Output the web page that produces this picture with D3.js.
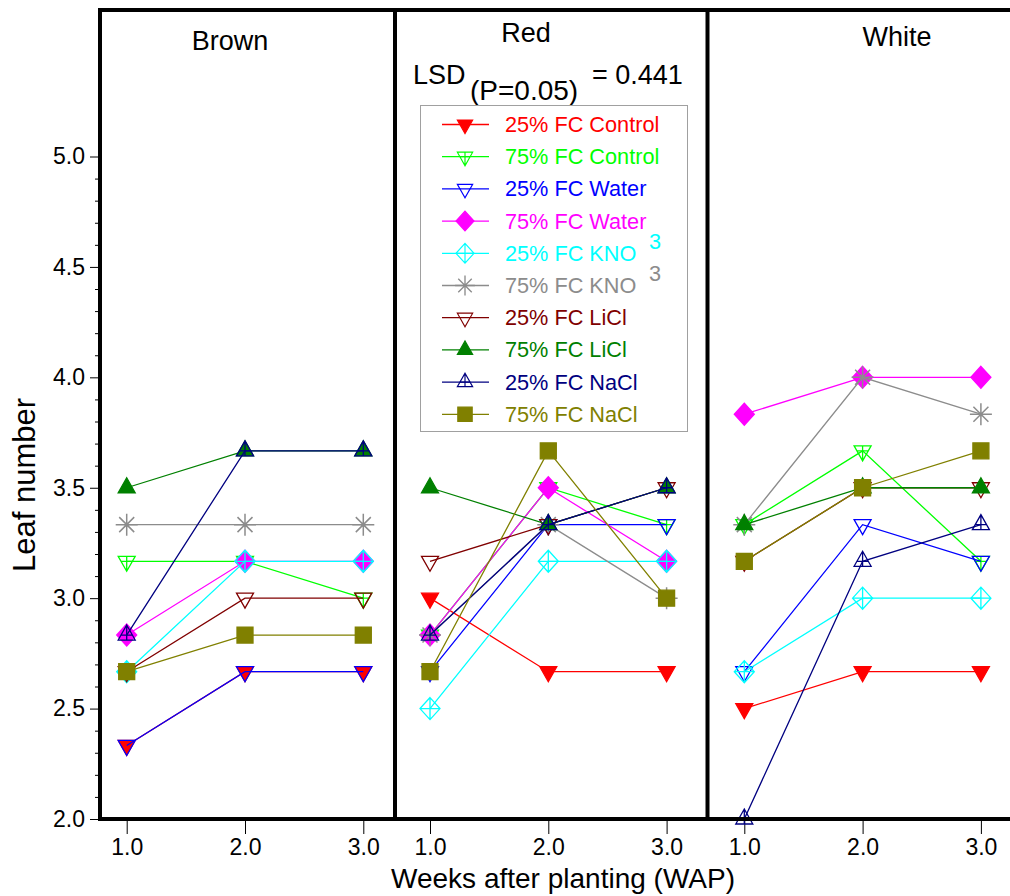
<!DOCTYPE html>
<html>
<head>
<meta charset="utf-8">
<script src="https://cdn.jsdelivr.net/npm/d3@7"></script>
<style>
  body { margin: 0; background: #fff; }
  svg { display: block; font-family: "Liberation Sans", Arial, sans-serif; }
</style>
</head>
<body>
<svg id="chart" width="1010" height="896"></svg>
<script>
// data ---------------------------------------------------------------------
const weeks = [1, 2, 3];
const cultivars = ['Brown', 'Red', 'White'];
const treatments = [
  '25% FC Control', '75% FC Control', '25% FC Water', '75% FC Water',
  '25% FC KNO3', '75% FC KNO3', '25% FC LiCl', '75% FC LiCl',
  '25% FC NaCl', '75% FC NaCl',
];
const brownValues = [
  [2.333, 2.667, 2.667],
  [3.167, 3.167, 3.0],
  [2.333, 2.667, 2.667],
  [2.833, 3.167, 3.167],
  [2.667, 3.167, 3.167],
  [3.333, 3.333, 3.333],
  [2.667, 3.0, 3.0],
  [3.5, 3.667, 3.667],
  [2.833, 3.667, 3.667],
  [2.667, 2.833, 2.833],
];
const redValues = [
  [3.0, 2.667, 2.667],
  [2.833, 3.5, 3.333],
  [2.667, 3.333, 3.333],
  [2.833, 3.5, 3.167],
  [2.5, 3.167, 3.167],
  [2.833, 3.333, 3.0],
  [3.167, 3.333, 3.5],
  [3.5, 3.333, 3.5],
  [2.833, 3.333, 3.5],
  [2.667, 3.667, 3.0],
];
const whiteValues = [
  [2.5, 2.667, 2.667],
  [3.333, 3.667, 3.167],
  [2.667, 3.333, 3.167],
  [3.833, 4.0, 4.0],
  [2.667, 3.0, 3.0],
  [3.333, 4.0, 3.833],
  [3.167, 3.5, 3.5],
  [3.333, 3.5, 3.5],
  [2.0, 3.167, 3.333],
  [3.167, 3.5, 3.667],
];
const yTicks = [2.0, 2.5, 3.0, 3.5, 4.0, 4.5, 5.0];
const lsdText = ['LSD', '(P=0.05)', '= 0.441'];

// styles ---------------------------------------------------------------------
const colors = ['#ff0000', '#00ff00', '#0000ff', '#ff00ff', '#00ffff',
  '#8c8c8c', '#800000', '#008000', '#000080', '#808000'];
const shapes = ['downFilled', 'downCross', 'downOpen', 'diamondFilled', 'diamondCross',
  'asterisk', 'downOpen', 'upFilled', 'upCross', 'square'];

const svg = d3.select('#chart');
const topY = 10;
const y = d3.scaleLinear().domain([2, 5]).range([819, 156.5]);
const bottomY = y(2);

// panel frames (left edge, right edge, position of week 1)
const layout = [
  { left: 100, right: 395, first: 126.7 },
  { left: 395, right: 707.5, first: 430 },
  { left: 707.5, right: 1020, first: 744.3 },
];
const panelData = [brownValues, redValues, whiteValues];
const titlePos = [[230, 50], [526, 42], [897, 46]];

function drawMarker(g, shape, color) {
  const open = { fill: 'none', stroke: color };
  const filled = { fill: color, stroke: color };
  let d = '';
  let style = open;
  switch (shape) {
    case 'downFilled': d = 'M-8.5,-5L8.5,-5L0,10Z'; style = filled; break;
    case 'downOpen': d = 'M-8.5,-5L8.5,-5L0,10Z'; break;
    case 'downCross': d = 'M-8.5,-5L8.5,-5L0,10ZM0,-5L0,10M-5.7,0L5.7,0'; break;
    case 'upFilled': d = 'M-8.5,5L8.5,5L0,-10Z'; style = filled; break;
    case 'upCross': d = 'M-8.5,5L8.5,5L0,-10ZM0,-10L0,5M-5.7,0L5.7,0'; break;
    case 'diamondFilled': d = 'M0,-11L10,0L0,11L-10,0Z'; style = filled; break;
    case 'diamondCross': d = 'M0,-11L10,0L0,11L-10,0ZM0,-11L0,11M-10,0L10,0'; break;
    case 'square': d = 'M-8,-8h16v16h-16Z'; style = filled; break;
    case 'asterisk': d = 'M-11,0L11,0M0,-11L0,11M-7.5,-7.5L7.5,7.5M-7.5,7.5L7.5,-7.5'; break;
    default: break;
  }
  g.append('path')
    .attr('d', d)
    .attr('fill', style.fill)
    .attr('stroke', style.stroke)
    .attr('stroke-width', shape === 'asterisk' ? 1.5 : 1.3);
}

// panels ------------------------------------------------------------------------
layout.forEach((p, pi) => {
  const x = d3.scaleLinear().domain([1, 3]).range([p.first, p.first + 236.6]);
  const g = svg.append('g').attr('class', 'panel');

  // x axis
  const xAxis = g.append('g')
    .attr('transform', `translate(0,${bottomY})`)
    .call(d3.axisBottom(x).tickValues(weeks).tickSize(15).tickPadding(5).tickFormat(d3.format('.1f')));
  xAxis.select('.domain').remove();
  xAxis.selectAll('line').attr('stroke', '#000').attr('stroke-width', 1);
  xAxis.selectAll('text').attr('font-size', 23).attr('fill', '#000').attr('font-family', 'Liberation Sans, Arial, sans-serif');

  // series
  panelData[pi].forEach((vals, si) => {
    const pts = weeks.map((w, i) => [x(w), y(vals[i])]);
    g.append('path')
      .attr('d', d3.line()(pts))
      .attr('fill', 'none')
      .attr('stroke', colors[si])
      .attr('stroke-width', 1.3);
    pts.forEach((pt) => {
      const m = g.append('g').attr('transform', `translate(${pt[0]},${pt[1]})`);
      drawMarker(m, shapes[si], colors[si]);
    });
  });

  g.append('text')
    .attr('x', titlePos[pi][0])
    .attr('y', titlePos[pi][1])
    .attr('text-anchor', 'middle')
    .attr('font-size', 27)
    .text(cultivars[pi]);
});

// frame lines
const frame = svg.append('g').attr('stroke', '#000').attr('stroke-width', 4).attr('fill', 'none');
frame.append('line').attr('x1', 98).attr('x2', 1010).attr('y1', topY).attr('y2', topY);
frame.append('line').attr('x1', 98).attr('x2', 1010).attr('y1', bottomY).attr('y2', bottomY);
layout.forEach((p) => {
  frame.append('line').attr('x1', p.left).attr('x2', p.left).attr('y1', topY).attr('y2', bottomY);
});

// y axis
const yAxis = svg.append('g')
  .attr('transform', 'translate(100,0)')
  .call(d3.axisLeft(y).tickValues(yTicks).tickSize(10).tickPadding(5).tickFormat(d3.format('.1f')));
yAxis.select('.domain').remove();
yAxis.selectAll('text').attr('font-size', 23).attr('font-family', 'Liberation Sans, Arial, sans-serif');
const minor = svg.append('g')
  .attr('transform', 'translate(100,0)')
  .call(d3.axisLeft(y).tickValues(d3.range(2.1, 5.0, 0.1).filter((v) => Math.abs(v * 2 - Math.round(v * 2)) > 0.01)).tickSize(5).tickFormat(''));
minor.select('.domain').remove();

// axis titles
svg.append('text')
  .attr('x', 563)
  .attr('y', 888)
  .attr('text-anchor', 'middle')
  .attr('font-size', 28)
  .text('Weeks after planting (WAP)');
svg.append('text')
  .attr('transform', 'translate(35,485) rotate(-90)')
  .attr('text-anchor', 'middle')
  .attr('font-size', 31)
  .text('Leaf number');

// LSD note
svg.append('text').attr('x', 413).attr('y', 84).attr('font-size', 27).text(lsdText[0]);
svg.append('text').attr('x', 470).attr('y', 100).attr('font-size', 28).text(lsdText[1]);
svg.append('text').attr('x', 592).attr('y', 84).attr('font-size', 27).text(lsdText[2]);

// legend
const legend = svg.append('g').attr('class', 'legend');
legend.append('rect')
  .attr('x', 420.5).attr('y', 105.5)
  .attr('width', 267).attr('height', 326)
  .attr('fill', '#fff')
  .attr('stroke', '#a0a0a0');
treatments.forEach((name, i) => {
  const cy = 124.5 + i * 32.2;
  legend.append('line')
    .attr('x1', 442).attr('x2', 489).attr('y1', cy).attr('y2', cy)
    .attr('stroke', colors[i]).attr('stroke-width', 1.3);
  const m = legend.append('g').attr('transform', `translate(465,${cy}) scale(0.9)`);
  drawMarker(m, shapes[i], colors[i]);
  const isKno = name.endsWith('KNO3');
  legend.append('text')
    .attr('x', 505).attr('y', cy + 7.5)
    .attr('font-size', 21.7)
    .attr('fill', colors[i])
    .text(isKno ? name.slice(0, -1) : name);
  if (isKno) {
    legend.append('text')
      .attr('x', 649).attr('y', cy - 4.5)
      .attr('font-size', 21.7)
      .attr('fill', colors[i])
      .text('3');
  }
});
</script>
</body>
</html>
